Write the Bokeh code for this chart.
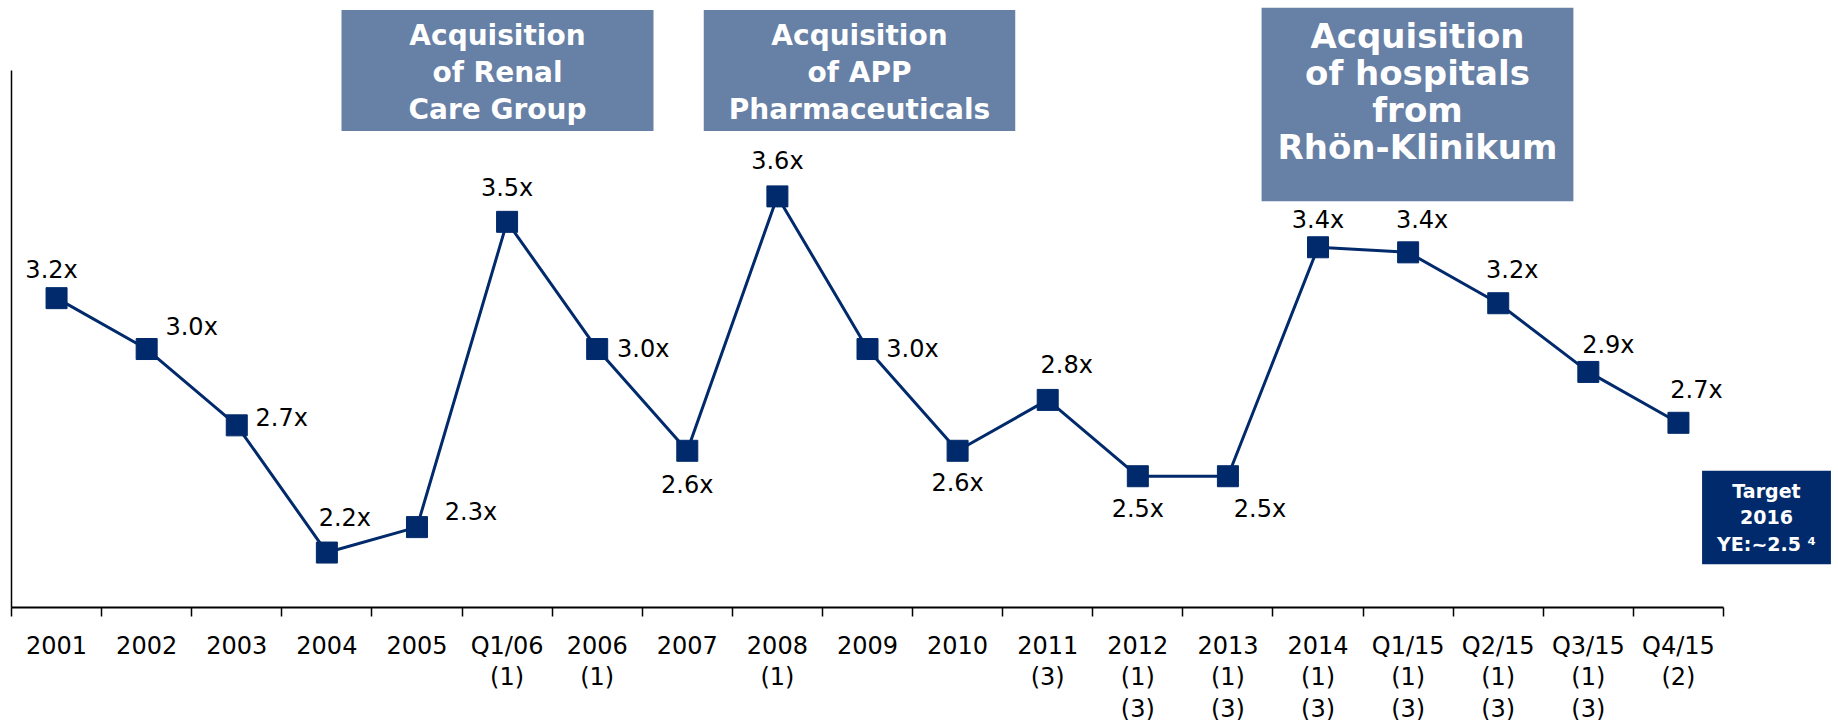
from bokeh.plotting import figure
from bokeh.models import (Range1d, FixedTicker, Label, ColumnDataSource)
from bokeh.embed import file_html
from bokeh.resources import INLINE
from bokeh.core.properties import value

# ---------------- data ----------------
periods = ["2001", "2002", "2003", "2004", "2005", "Q1/06", "2006", "2007",
           "2008", "2009", "2010", "2011", "2012", "2013", "2014", "Q1/15",
           "Q2/15", "Q3/15", "Q4/15"]
footnotes = ["", "", "", "", "", "(1)", "(1)", "", "(1)", "", "", "(3)",
             "(1)\n(3)", "(1)\n(3)", "(1)\n(3)", "(1)\n(3)", "(1)\n(3)",
             "(1)\n(3)", "(2)"]
leverage = [3.2, 3.0, 2.7, 2.2, 2.3, 3.5, 3.0, 2.6, 3.6, 3.0, 2.6, 2.8,
            2.5, 2.5, 3.4, 3.38, 3.18, 2.91, 2.71]
value_labels = ["3.2x", "3.0x", "2.7x", "2.2x", "2.3x", "3.5x", "3.0x",
                "2.6x", "3.6x", "3.0x", "2.6x", "2.8x", "2.5x", "2.5x",
                "3.4x", "3.4x", "3.2x", "2.9x", "2.7x"]
events = ["Acquisition\nof Renal\nCare Group",
          "Acquisition\nof APP\nPharmaceuticals",
          "Acquisition\nof hospitals\nfrom\nRhön-Klinikum"]
target_text = "Target\n2016\nYE:~2.5 \u2074"

# label placement (pixels: right, up) relative to each marker
label_dx = [-5, 45, 45, 18, 54, 0, 46, 0, 0, 45, 0, 19, 0, 32, 0, 14, 14, 20, 18]
label_dy = [28, 22, 7, 35, 15, 34, 0, -34, 35, 0, -32, 35, -33, -33, 27, 32, 33, 27, 33]

NAVY = "#002A6B"
BOX = "#6780A6"
FONT = "DejaVu Sans"

# ---------------- layout ----------------
FRAME_W, FRAME_H = 1825, 607      # frame reaches canvas top / right edge
AXIS_W = 1712                     # pixel length of the period axis
Y0, PX_PER_UNIT = 1.984, 254.4
Y_AXIS_TOP = 4.095

n = len(periods)
slot = [i + 0.5 for i in range(n)]          # centre of each period's slot
src = ColumnDataSource(dict(
    x=slot, lev=leverage, lbl=value_labels,
    dx=label_dx, dy=[-d for d in label_dy]))

p = figure(x_range=Range1d(0, n * FRAME_W / AXIS_W),
           y_range=Range1d(Y0, Y0 + FRAME_H / PX_PER_UNIT),
           frame_width=FRAME_W, frame_height=FRAME_H,
           min_border_left=11, min_border_right=0, min_border_top=0,
           min_border_bottom=100,
           output_backend="svg", toolbar_location=None,
           background_fill_color="white", border_fill_color="white")
p.outline_line_color = None
p.grid.grid_line_color = None

# left axis: plain line
ya = p.yaxis[0]
ya.ticker = FixedTicker(ticks=[])
ya.major_tick_line_color = None
ya.minor_tick_line_color = None
ya.major_label_standoff = 0
ya.axis_line_width = 1.5
ya.axis_line_color = "black"
ya.bounds = (Y0, Y_AXIS_TOP)

# bottom axis: labels at slot centres, tick marks between periods
xa = p.xaxis[0]
xa.bounds = (0, n)
xa.ticker = FixedTicker(ticks=slot, minor_ticks=list(range(n + 1)))
xa.major_label_overrides = {x: (c + "\n" + f if f else c)
                            for x, c, f in zip(slot, periods, footnotes)}
xa.major_tick_line_color = None
xa.major_tick_in = 0
xa.major_tick_out = 0
xa.minor_tick_in = 0
xa.minor_tick_out = 9
xa.minor_tick_line_width = 1.5
xa.minor_tick_line_color = "black"
xa.axis_line_width = 2
xa.axis_line_color = "black"
xa.major_label_standoff = 15
xa.major_label_text_font = FONT
xa.major_label_text_font_size = "24px"
xa.major_label_text_color = "black"
xa.major_label_text_line_height = 1.14

# series
p.line("x", "lev", source=src, line_color=NAVY, line_width=3)
p.scatter("x", "lev", source=src, marker="square", size=21,
          fill_color=NAVY, line_color=NAVY)
p.text("x", "lev", text="lbl", source=src, x_offset="dx", y_offset="dy",
       text_font=value(FONT), text_font_size="24px", text_color="black",
       text_align="center", text_baseline="middle")

# event boxes (screen px from frame bottom-left; anchor = box centre)
box_specs = [
    (events[0], 486, 537, 28, 1.12, dict(left=67, right=67, top=9, bottom=5)),
    (events[1], 848, 537, 28, 1.12, dict(left=25, right=25, top=9, bottom=5)),
    (events[2], 1406, 503, 34, 0.93, dict(left=16, right=16, top=8, bottom=34)),
]
for txt, bx, by, fs, lh, pad in box_specs:
    p.add_layout(Label(x=bx, y=by, x_units="screen", y_units="screen", text=txt,
                       text_align="center", text_baseline="middle",
                       text_font=FONT, text_font_style="bold",
                       text_font_size=f"{fs}px", text_line_height=lh,
                       text_color="white", background_fill_color=BOX,
                       padding=pad))

p.add_layout(Label(x=1755, y=90, x_units="screen", y_units="screen",
                   text=target_text, text_align="center", text_baseline="middle",
                   text_font=FONT, text_font_style="bold", text_font_size="19px",
                   text_line_height=1.22, text_color="white",
                   background_fill_color=NAVY, padding=(15, 9)))

open("out.html", "w").write(file_html(p, INLINE))
